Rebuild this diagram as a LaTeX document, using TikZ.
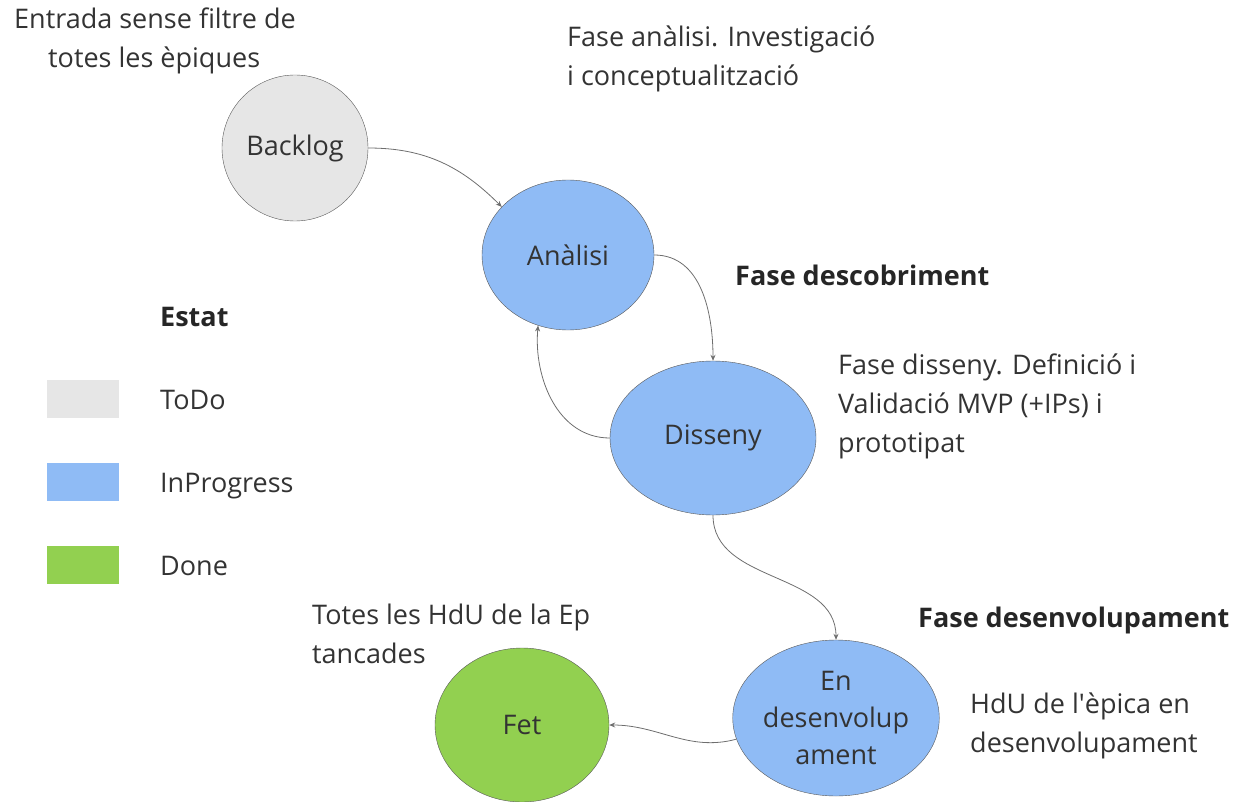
\documentclass[tikz,border=0pt]{standalone}
\usepackage{fontspec}
\setmainfont{Open Sans}
\usetikzlibrary{shapes.geometric,arrows.meta}
\definecolor{todo}{HTML}{E6E6E6}
\definecolor{inprog}{HTML}{8FBBF5}
\definecolor{done}{HTML}{92D050}
\definecolor{ink}{HTML}{333333}
\definecolor{wire}{HTML}{6E6E6E}

\begin{document}
\begin{tikzpicture}[x=1pt,y=-1pt]
        \tikzset{estat/.style={draw=black!65,ellipse,inner sep=0pt,align=center,text=ink,
                font=\fontsize{27}{37}\selectfont},
            nota/.style={anchor=base west,inner sep=0pt,align=left,text=ink,
                font=\fontsize{27}{39}\selectfont},
            fase/.style={nota,text=black!85,font=\fontsize{27}{39}\selectfont\bfseries},
            mostra/.style={minimum width=72pt,minimum height=38pt,inner sep=0pt,anchor=north west},
            fletxa/.style={draw=wire,line width=0.8pt,-{Stealth[length=6pt,width=5pt]}}}
        \useasboundingbox (0,0) rectangle (1236,802);
        \node[estat,fill=todo,minimum width=146pt,minimum height=146pt] (backlog) at (295,148) {Backlog};
        \node[estat,fill=inprog,minimum width=172pt,minimum height=150pt] (analisi) at (568,255) {Anàlisi};
        \node[estat,fill=inprog,minimum width=206pt,minimum height=154pt] (disseny) at (713,438) {Disseny};
        \node[estat,fill=inprog,minimum width=206pt,minimum height=156pt] (desenv) at (836,718) {En\\desenvolup\\ament};
        \node[estat,fill=done,minimum width=174pt,minimum height=154pt] (fet) at (522,725) {Fet};
        \node[nota] (entrada) at (14,68) {Entrada sense filtre de\\\hspace*{34pt}totes les èpiques};
        \node[nota] (nanalisi) at (567,86) {Fase anàlisi. Investigació\\i conceptualització};
        \node[fase] (descobriment) at (735,285) {Fase descobriment};
        \node[nota] (ndisseny) at (838,452) {Fase disseny. Definició i\\Validació MVP (+IPs) i\\prototipat};
        \node[fase] (desenvolupament) at (918,627) {Fase desenvolupament};
        \node[nota] (ndesenv) at (970,752) {HdU de l\textquotesingle èpica en\\desenvolupament};
        \node[nota] (nfet) at (312,663) {Totes les HdU de la Ep\\tancades};
        \node[fase] (estat) at (160,326) {Estat};
        \node[mostra,fill=todo] (mtodo) at (47,380) {};
        \node[mostra,fill=inprog] (mprog) at (47,463) {};
        \node[mostra,fill=done] (mdone) at (47,546) {};
        \node[nota] (ltodo) at (160,409) {ToDo};
        \node[nota] (lprog) at (160,492) {InProgress};
        \node[nota] (ldone) at (160,575) {Done};
        \draw[fletxa] (backlog.east) to[out=0,in=135] (analisi.144);
        \draw[fletxa] (analisi.east) to[out=0,in=90] (disseny.north);
        \draw[fletxa] (disseny.west) to[out=180,in=-95] (analisi.247);
        \draw[fletxa] (disseny.south) to[out=-90,in=90] (desenv.north);
        \draw[fletxa] (desenv.192) to[out=195,in=0] (fet.east);
\end{tikzpicture}
\end{document}
